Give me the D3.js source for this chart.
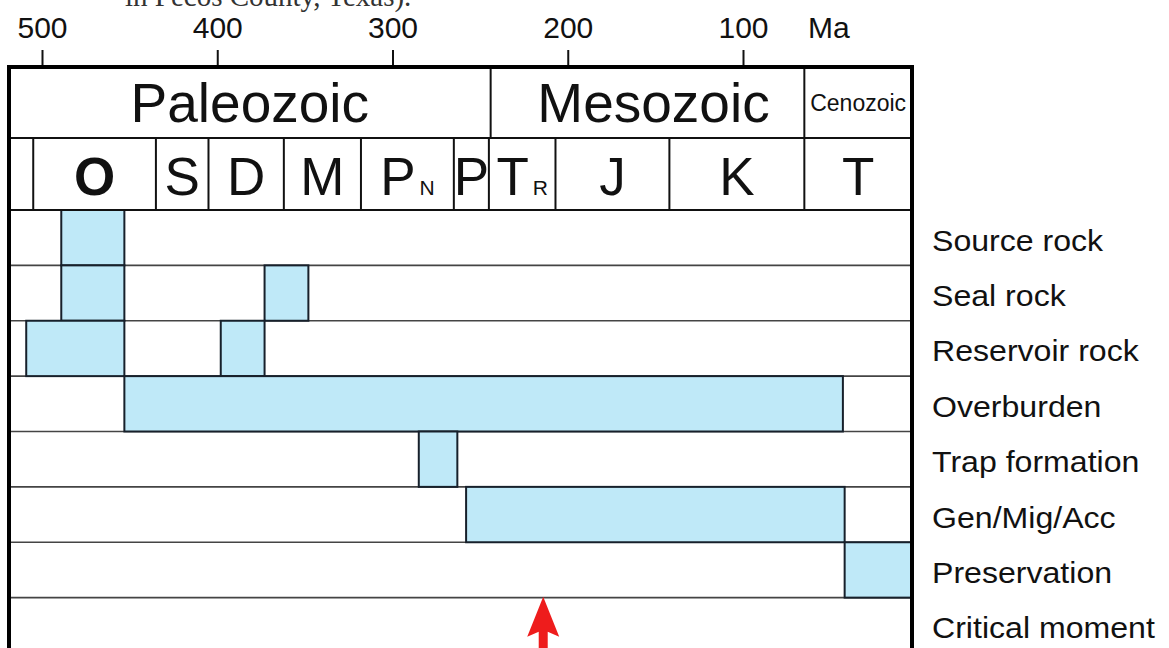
<!DOCTYPE html>
<html>
<head>
<meta charset="utf-8">
<script src="https://cdn.jsdelivr.net/npm/d3@7/dist/d3.min.js"></script>
<style>
  html, body { margin: 0; padding: 0; background: #fff; }
  svg { display: block; }
  text { font-family: "Liberation Sans", Arial, Helvetica, sans-serif; fill: #111; }
</style>
</head>
<body>
<svg id="chart" width="1169" height="648"></svg>
<script>
// Geologic time (Ma) tick values on the top axis
const tickValues = [500, 400, 300, 200, 100];

// Era names and their age limits (Ma, old -> young)
const eraNames = ["Paleozoic", "Mesozoic", "Cenozoic"];
const eraStart = [519, 244, 65];
const eraEnd   = [244, 65, 0];

// Period symbols (main letter + subscript) and age limits (Ma)
const periodNames = ["", "O", "S", "D", "M", "P", "P", "T", "J", "K", "T"];
const periodSubs  = ["", "", "", "", "", "N", "", "R", "", "", ""];
const periodStart = [519, 505, 435, 405, 362, 318, 265, 245, 207, 142, 65];
const periodEnd   = [505, 435, 405, 362, 318, 265, 245, 207, 142, 65, 0];

// Petroleum-system elements and the time intervals they occupy (Ma)
const elements = ["Source rock", "Seal rock", "Reservoir rock", "Overburden",
                  "Trap formation", "Gen/Mig/Acc", "Preservation", "Critical moment"];
const elementSpans = [
  [[489, 453]],
  [[489, 453], [373, 348]],
  [[509, 453], [398, 373]],
  [[453, 43]],
  [[285, 263]],
  [[258, 42]],
  [[42, 0]],
  []
];
const criticalMoment = 214;

const svg = d3.select("#chart");

// layout
const frameL = 9, frameR = 912;
const eraTop = 67, periodTop = 138, rowsTop = 210, rowsBottom = 653;

const x = d3.scaleLinear().domain([500, 100]).range([42, 743]);
const xc = v => Math.max(frameL, Math.min(frameR, x(v)));
const y = d3.scaleBand().domain(elements).range([rowsTop, rowsBottom]).padding(0);

// caption line running off the top edge
svg.append("text")
  .attr("x", 125).attr("y", 6)
  .style("font-family", "'Liberation Serif', 'Times New Roman', serif")
  .style("font-size", "29px")
  .style("fill", "#333")
  .text("in Pecos County, Texas).");

// top time axis
const axis = d3.axisTop(x).tickValues(tickValues).tickSize(17).tickPadding(12).tickFormat(d3.format("d"));
const gAxis = svg.append("g").attr("transform", `translate(0,${eraTop})`).call(axis);
gAxis.select(".domain").remove();
gAxis.selectAll(".tick line").attr("stroke", "#111").attr("stroke-width", 2);
gAxis.selectAll(".tick text")
  .attr("fill", "#111")
  .style("font-family", "'Liberation Sans', Arial, sans-serif")
  .style("font-size", "30px");
svg.append("text").attr("x", 808).attr("y", 38).style("font-size", "30px").text("Ma");

// event rows: horizontal separators
const rowG = svg.append("g");
elements.forEach((el, i) => {
  if (i === 0) return;
  rowG.append("line")
    .attr("x1", frameL).attr("x2", frameR)
    .attr("y1", y(el)).attr("y2", y(el))
    .attr("stroke", "#444").attr("stroke-width", 1.6);
});

// bars for each element interval
const barData = [];
elementSpans.forEach((spans, i) => spans.forEach(s => barData.push({ el: elements[i], a: s[0], b: s[1] })));
svg.append("g").selectAll("rect").data(barData).join("rect")
  .attr("x", d => xc(d.a))
  .attr("width", d => xc(d.b) - xc(d.a))
  .attr("y", d => y(d.el))
  .attr("height", y.bandwidth())
  .attr("fill", "#bfe9f8")
  .attr("stroke", "#17202b")
  .attr("stroke-width", 2);

// element labels on the right
svg.append("g").selectAll("text").data(elements).join("text")
  .attr("transform", d => `translate(932,${y(d) + y.bandwidth() / 2 + 13}) scale(1.07,1)`)
  .style("font-size", "30px")
  .text(d => d);

// critical moment arrow
const ax = x(criticalMoment), tipY = y("Critical moment") - 1;
svg.append("path")
  .attr("d", `M${ax},${tipY} L${ax + 16},${tipY + 40} L${ax + 4.5},${tipY + 35} L${ax + 4.5},${tipY + 60}
              L${ax - 4.5},${tipY + 60} L${ax - 4.5},${tipY + 35} L${ax - 16},${tipY + 40} Z`)
  .attr("fill", "#ee1c1c");

// era row
const eraG = svg.append("g");
eraNames.forEach((n, i) => {
  if (i > 0) {
    eraG.append("line").attr("x1", xc(eraStart[i])).attr("x2", xc(eraStart[i]))
      .attr("y1", eraTop).attr("y2", periodTop).attr("stroke", "#111").attr("stroke-width", 2);
  }
  const cx = (xc(eraStart[i]) + xc(eraEnd[i])) / 2;
  eraG.append("text")
    .attr("x", cx + (i === 1 ? 6 : 0))
    .attr("y", i === 2 ? 111 : 122)
    .attr("text-anchor", "middle")
    .style("font-size", i === 2 ? "23px" : "55px")
    .text(n);
});
svg.append("line").attr("x1", frameL).attr("x2", frameR)
  .attr("y1", periodTop).attr("y2", periodTop).attr("stroke", "#111").attr("stroke-width", 2);

// period row
const perG = svg.append("g");
periodNames.forEach((n, i) => {
  if (i > 0) {
    perG.append("line").attr("x1", xc(periodStart[i])).attr("x2", xc(periodStart[i]))
      .attr("y1", periodTop).attr("y2", rowsTop).attr("stroke", "#111").attr("stroke-width", 2);
  }
  if (!n) return;
  const cx = (xc(periodStart[i]) + xc(periodEnd[i])) / 2;
  const t = perG.append("text")
    .attr("x", cx).attr("y", 195)
    .attr("text-anchor", "middle")
    .style("font-size", "53px")
    .style("font-weight", n === "O" && i === 1 ? "bold" : "normal");
  t.append("tspan").text(n);
  if (periodSubs[i]) t.append("tspan").attr("dx", 4).style("font-size", "21px").text(periodSubs[i]);
});
svg.append("line").attr("x1", frameL).attr("x2", frameR)
  .attr("y1", rowsTop).attr("y2", rowsTop).attr("stroke", "#111").attr("stroke-width", 2);

// outer frame
svg.append("rect")
  .attr("x", frameL).attr("y", eraTop)
  .attr("width", frameR - frameL).attr("height", rowsBottom - eraTop)
  .attr("fill", "none").attr("stroke", "#000").attr("stroke-width", 4);
</script>
</body>
</html>
